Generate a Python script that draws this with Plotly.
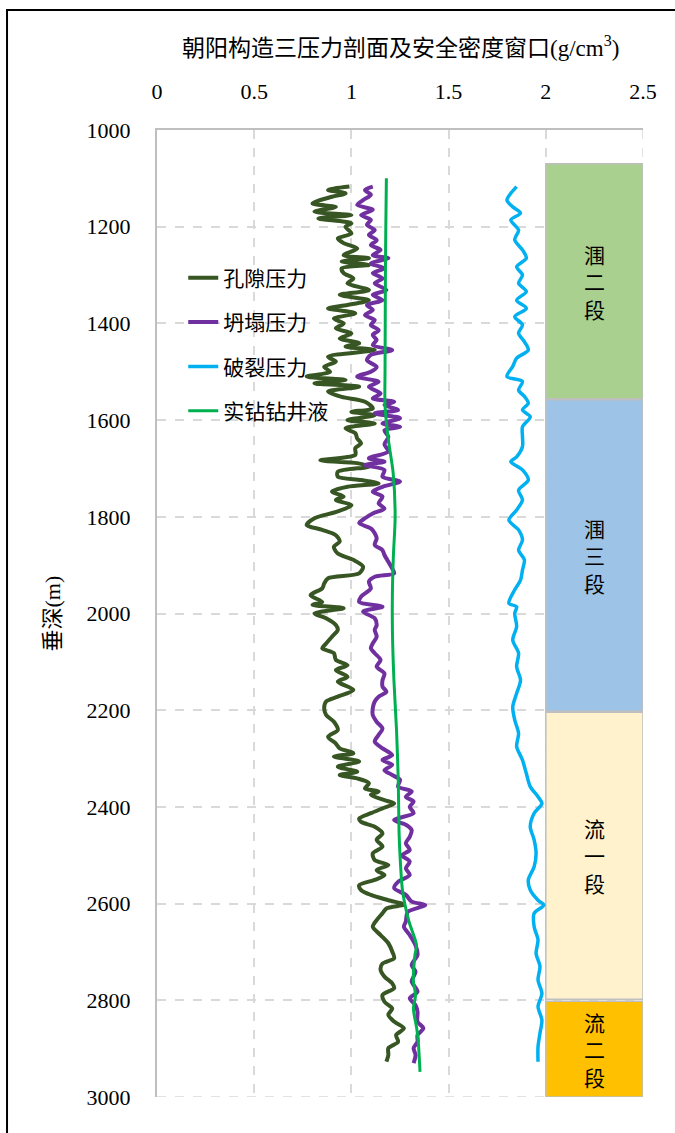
import plotly.graph_objects as go

# ---- data: pressure profiles (depth in m, equivalent density in g/cm3) ----
pore_depth = [1117, 1124, 1131, 1138, 1152, 1159, 1169, 1176, 1183, 1193, 1200, 1214, 1224, 1234, 1245,
              1259, 1265, 1272, 1279, 1286, 1296, 1307, 1317, 1331, 1341, 1352, 1362, 1369, 1379, 1390,
              1400, 1410, 1421, 1431, 1441, 1448, 1455, 1469, 1479, 1490, 1500, 1510, 1517, 1524, 1531,
              1541, 1552, 1562, 1576, 1583, 1590, 1600, 1607, 1617, 1627, 1638, 1648, 1658, 1672, 1683,
              1689, 1696, 1707, 1717, 1724, 1731, 1738, 1748, 1758, 1765, 1776, 1789, 1803, 1817, 1827,
              1838, 1851, 1862, 1876, 1889, 1903, 1917, 1927, 1938, 1948, 1962, 1976, 1982, 1989, 2000,
              2010, 2024, 2034, 2048, 2062, 2072, 2082, 2096, 2107, 2117, 2131, 2141, 2158, 2172, 2182,
              2196, 2210, 2224, 2241, 2255, 2269, 2279, 2289, 2296, 2306, 2317, 2327, 2334, 2341, 2351,
              2362, 2368, 2375, 2386, 2393, 2403, 2413, 2424, 2431, 2441, 2455, 2468, 2482, 2496, 2510,
              2520, 2531, 2541, 2551, 2562, 2572, 2582, 2593, 2602, 2610, 2620, 2634, 2648, 2665, 2682,
              2699, 2713, 2724, 2737, 2751, 2765, 2775, 2789, 2803, 2817, 2830, 2844, 2858, 2872, 2886,
              2899, 2913, 2927]
pore_density = [0.99, 0.88, 0.97, 0.90, 0.80, 0.92, 0.81, 1.00, 0.83, 1.00, 0.97, 1.00, 0.93, 0.96, 1.03,
                0.96, 1.09, 0.95, 1.09, 0.95, 0.96, 1.01, 0.98, 1.09, 0.94, 1.09, 0.98, 0.88, 1.02, 0.91,
                0.96, 0.92, 1.00, 0.94, 1.04, 0.97, 1.12, 0.88, 0.92, 0.86, 0.89, 0.77, 0.97, 0.81, 1.04,
                0.88, 0.95, 1.07, 1.11, 1.00, 1.12, 0.98, 1.12, 0.97, 1.02, 1.03, 1.05, 1.02, 1.02, 0.84,
                1.03, 1.09, 0.93, 0.93, 1.05, 1.14, 0.98, 0.90, 0.96, 0.92, 1.00, 0.93, 0.81, 0.77, 0.85,
                0.92, 0.94, 0.91, 0.93, 1.01, 1.06, 1.04, 0.88, 0.86, 0.85, 0.79, 0.85, 0.80, 0.96, 0.81,
                0.87, 0.92, 0.93, 0.90, 0.87, 0.85, 0.91, 0.92, 0.98, 0.92, 0.98, 0.93, 1.01, 0.93, 0.87,
                0.86, 0.87, 0.91, 0.93, 0.88, 0.92, 0.94, 1.01, 0.91, 1.04, 0.93, 1.03, 0.94, 1.03, 1.09,
                1.07, 1.14, 1.10, 1.17, 1.22, 1.16, 1.10, 1.04, 1.05, 1.12, 1.16, 1.13, 1.16, 1.11, 1.12,
                1.19, 1.13, 1.17, 1.12, 1.04, 1.05, 1.10, 1.19, 1.27, 1.18, 1.16, 1.13, 1.11, 1.15, 1.19,
                1.21, 1.22, 1.16, 1.15, 1.17, 1.21, 1.22, 1.16, 1.17, 1.21, 1.19, 1.22, 1.27, 1.23, 1.24,
                1.19, 1.19, 1.18]

collapse_depth = [1117, 1124, 1134, 1145, 1155, 1165, 1176, 1186, 1196, 1207, 1217, 1228, 1238, 1248, 1259,
                  1265, 1276, 1286, 1296, 1307, 1317, 1331, 1341, 1352, 1362, 1372, 1383, 1393, 1403, 1414,
                  1424, 1434, 1445, 1455, 1465, 1476, 1490, 1500, 1510, 1521, 1531, 1545, 1555, 1562, 1569,
                  1579, 1586, 1596, 1607, 1614, 1621, 1635, 1650, 1665, 1679, 1686, 1693, 1703, 1717, 1727,
                  1738, 1748, 1758, 1772, 1783, 1793, 1803, 1813, 1824, 1834, 1845, 1858, 1869, 1879, 1893,
                  1907, 1917, 1924, 1934, 1948, 1965, 1976, 1986, 1996, 2010, 2024, 2034, 2048, 2062, 2072,
                  2082, 2096, 2110, 2124, 2138, 2151, 2162, 2172, 2182, 2196, 2210, 2224, 2238, 2251, 2265,
                  2279, 2293, 2303, 2313, 2324, 2334, 2344, 2358, 2368, 2379, 2389, 2400, 2413, 2427, 2437,
                  2448, 2462, 2475, 2489, 2500, 2513, 2527, 2541, 2555, 2568, 2582, 2596, 2603, 2617, 2637,
                  2648, 2665, 2686, 2706, 2727, 2741, 2761, 2782, 2796, 2810, 2824, 2844, 2858, 2872, 2886,
                  2899, 2913, 2930]
collapse_density = [1.11, 1.07, 1.10, 1.06, 1.03, 1.11, 1.05, 1.10, 1.08, 1.12, 1.09, 1.13, 1.10, 1.15, 1.11,
                    1.19, 1.10, 1.17, 1.11, 1.16, 1.12, 1.18, 1.11, 1.16, 1.08, 1.11, 1.07, 1.12, 1.10, 1.14,
                    1.11, 1.13, 1.11, 1.21, 1.10, 1.08, 1.13, 1.10, 1.03, 1.14, 1.09, 1.15, 1.11, 1.22, 1.17,
                    1.24, 1.12, 1.25, 1.16, 1.25, 1.17, 1.19, 1.17, 1.19, 1.09, 1.17, 1.07, 1.17, 1.16, 1.25,
                    1.16, 1.11, 1.16, 1.14, 1.17, 1.11, 1.07, 1.04, 1.10, 1.12, 1.13, 1.12, 1.16, 1.17, 1.19,
                    1.21, 1.22, 1.12, 1.09, 1.10, 1.05, 1.04, 1.16, 1.06, 1.12, 1.13, 1.12, 1.13, 1.11, 1.10,
                    1.12, 1.15, 1.13, 1.17, 1.16, 1.16, 1.18, 1.14, 1.12, 1.11, 1.11, 1.13, 1.16, 1.14, 1.12,
                    1.16, 1.21, 1.16, 1.21, 1.17, 1.21, 1.25, 1.24, 1.31, 1.28, 1.32, 1.30, 1.32, 1.22, 1.28,
                    1.31, 1.30, 1.28, 1.30, 1.26, 1.30, 1.28, 1.30, 1.24, 1.22, 1.28, 1.31, 1.38, 1.29, 1.28,
                    1.27, 1.30, 1.33, 1.34, 1.31, 1.33, 1.31, 1.34, 1.30, 1.33, 1.34, 1.34, 1.37, 1.34, 1.34,
                    1.32, 1.33, 1.32]

frac_depth = [1117, 1131, 1145, 1159, 1172, 1186, 1207, 1227, 1248, 1265, 1283, 1300, 1317, 1334, 1352,
              1369, 1386, 1403, 1420, 1438, 1455, 1472, 1489, 1510, 1520, 1538, 1551, 1565, 1579, 1593,
              1614, 1634, 1655, 1676, 1686, 1703, 1724, 1745, 1765, 1786, 1807, 1827, 1848, 1869, 1889,
              1910, 1931, 1951, 1979, 1986, 2000, 2027, 2055, 2082, 2110, 2138, 2165, 2193, 2220, 2248,
              2275, 2303, 2331, 2358, 2379, 2393, 2413, 2441, 2468, 2496, 2524, 2551, 2572, 2593, 2603,
              2620, 2648, 2675, 2703, 2730, 2758, 2786, 2813, 2841, 2868, 2896, 2927]
frac_density = [1.85, 1.82, 1.80, 1.83, 1.87, 1.82, 1.86, 1.84, 1.88, 1.90, 1.85, 1.88, 1.86, 1.90, 1.85,
                1.90, 1.84, 1.88, 1.86, 1.89, 1.91, 1.85, 1.83, 1.80, 1.88, 1.86, 1.89, 1.91, 1.88, 1.92,
                1.88, 1.88, 1.88, 1.85, 1.82, 1.88, 1.91, 1.86, 1.88, 1.85, 1.81, 1.86, 1.88, 1.86, 1.89,
                1.88, 1.87, 1.84, 1.81, 1.85, 1.84, 1.85, 1.83, 1.86, 1.85, 1.87, 1.85, 1.83, 1.84, 1.86,
                1.85, 1.88, 1.90, 1.92, 1.96, 1.98, 1.94, 1.92, 1.94, 1.95, 1.94, 1.91, 1.92, 1.96, 1.99,
                1.94, 1.94, 1.96, 1.95, 1.97, 1.96, 1.98, 1.96, 1.98, 1.97, 1.96, 1.96]

mud_depth = [1100, 1200, 1300, 1400, 1500, 1570, 1640, 1710, 1800, 1880, 1955, 2035, 2140, 2240, 2345,
             2450, 2500, 2570, 2603, 2637, 2686, 2706, 2761, 2789, 2817, 2858, 2886, 2948]
mud_density = [1.180, 1.177, 1.175, 1.174, 1.173, 1.173, 1.190, 1.215, 1.225, 1.216, 1.211, 1.211, 1.219,
               1.232, 1.241, 1.245, 1.250, 1.262, 1.276, 1.296, 1.335, 1.327, 1.319, 1.330, 1.319, 1.336,
               1.344, 1.353]

# ---- formation column ----
formation_names = ["涠二段", "涠三段", "流一段", "流二段"]
formation_top = [1070, 1558, 2204, 2802]
formation_base = [1556, 2202, 2798, 3000]
formation_colors = ["#A9D08E", "#9DC3E6", "#FFF2CC", "#FFC000"]

x_ticks = [0, 0.5, 1, 1.5, 2, 2.5]
y_ticks = [1000, 1200, 1400, 1600, 1800, 2000, 2200, 2400, 2600, 2800, 3000]

X_MIN, X_MAX = 0, 2.5
Y_TOP, Y_BOTTOM = 1000, 3000
COL_LEFT, COL_RIGHT = 2.0, 2.5
SERIF = "Liberation Serif"
MIXED = "Liberation Serif, Noto Sans CJK SC"
CJK = "Noto Sans CJK SC"
GRID = "#D9D9D9"

fig = go.Figure()

mids = [(t + b) / 2 for t, b in zip(formation_top, formation_base)]
spans = [b - t for t, b in zip(formation_top, formation_base)]
fig.add_trace(go.Bar(
    orientation="h", y=mids, x=[COL_RIGHT - COL_LEFT] * len(mids), base=[COL_LEFT] * len(mids),
    width=spans, marker=dict(color=formation_colors, line=dict(color="#BFBFBF", width=1.5)),
    showlegend=False, hoverinfo="skip"))

series = [
    ("孔隙压力", pore_depth, pore_density, "#375623", 4),
    ("坍塌压力", collapse_depth, collapse_density, "#7030A0", 4),
    ("破裂压力", frac_depth, frac_density, "#00B0F0", 3.5),
    ("实钻钻井液", mud_depth, mud_density, "#00B050", 3),
]
for i, (name, d, v, c, w) in enumerate(series):
    fig.add_trace(go.Scatter(
        x=v, y=d, mode="lines", name=name, legendgroup=f"g{i}",
        line=dict(color=c, width=w, shape="spline", smoothing=0.8)))

annotations = []
for name, m in zip(formation_names, mids):
    annotations.append(dict(
        x=(COL_LEFT + COL_RIGHT) / 2, y=m, xref="x", yref="y", showarrow=False,
        text="<br>".join(name), font=dict(family=CJK, size=21, color="#000000"),
        xanchor="center", yanchor="middle"))

annotations.append(dict(
    x=0.5, y=1.086, xref="paper", yref="paper", showarrow=False,
    text="朝阳构造三压力剖面及安全密度窗口(g/cm<sup>3</sup>)",
    font=dict(family=MIXED, size=23, color="#000000"), xanchor="center", yanchor="middle"))
annotations.append(dict(
    x=-0.216, y=0.5, xref="paper", yref="paper", showarrow=False, textangle=-90,
    text="垂深(m)", font=dict(family=MIXED, size=22, color="#000000"),
    xanchor="center", yanchor="middle"))

# dashed closing grid lines along the bottom and right edges of the plot
edge_dash = dict(color=GRID, width=1.5, dash="dash")
shapes = [
    dict(type="line", xref="x", yref="y", x0=X_MIN, x1=X_MAX, y0=Y_BOTTOM, y1=Y_BOTTOM,
         line=edge_dash, layer="below"),
    dict(type="line", xref="x", yref="y", x0=X_MAX, x1=X_MAX, y0=Y_TOP, y1=Y_BOTTOM,
         line=edge_dash, layer="below"),
    # outer frame of the figure
    dict(type="rect", xref="paper", yref="paper",
         x0=-0.3086, x1=1.08, y0=-0.05, y1=1.1241,
         line=dict(color="#000000", width=2), layer="above"),
]

fig.update_layout(
    width=675, height=1133,
    margin=dict(l=157, r=32, t=130, b=36),
    paper_bgcolor="white", plot_bgcolor="white",
    annotations=annotations,
    shapes=shapes,
    legend=dict(x=0.054, y=0.868, xanchor="left", yanchor="top",
                bgcolor="rgba(0,0,0,0)", tracegroupgap=14,
                font=dict(family=CJK, size=21, color="#000000")),
    xaxis=dict(range=[X_MIN, X_MAX], side="top", tickvals=x_ticks,
               ticktext=[f"{t:g}" for t in x_ticks], ticks="", ticklabelstandoff=20,
               showline=True, linecolor="#BFBFBF", linewidth=2,
               showgrid=True, gridcolor=GRID, griddash="dash", gridwidth=1.5,
               zeroline=False, tickfont=dict(family=SERIF, size=22, color="#000000")),
    yaxis=dict(range=[Y_BOTTOM, Y_TOP], tickvals=y_ticks, ticks="", ticklabelstandoff=20,
               showline=True, linecolor="#BFBFBF", linewidth=2,
               showgrid=True, gridcolor=GRID, griddash="dash", gridwidth=1.5,
               zeroline=False, tickfont=dict(family=SERIF, size=22, color="#000000")),
    showlegend=True,
)

fig.write_html("out.html")
